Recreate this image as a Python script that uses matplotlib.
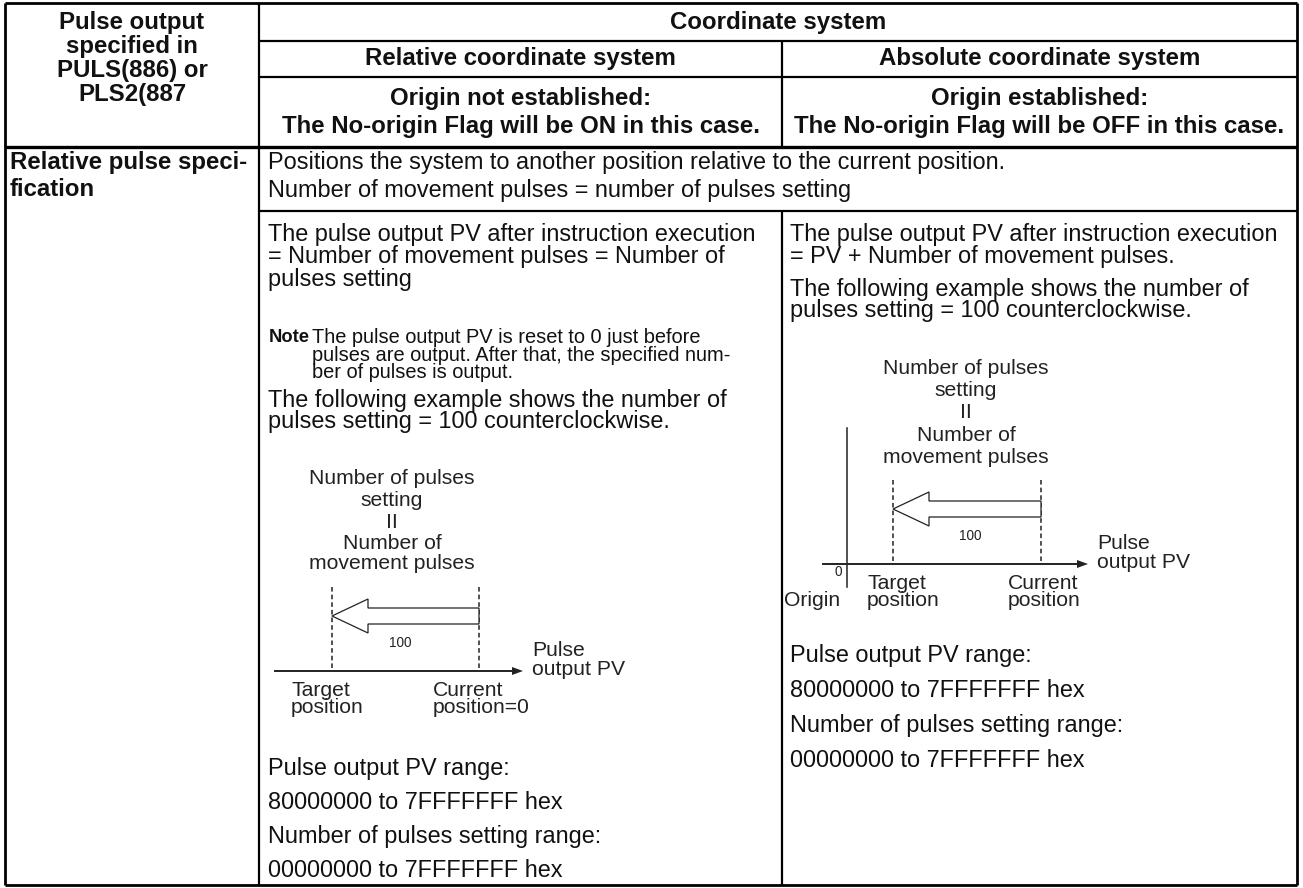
import matplotlib.pyplot as plt
from matplotlib.patches import Polygon

# --- 1. TABLE TEXT ---
row_header = ["Pulse output", "specified in", "PULS(886) or", "PLS2(887"]
coord_header = "Coordinate system"
systems = ["Relative coordinate system", "Absolute coordinate system"]
origin_state = ["Origin not established:", "Origin established:"]
flag_state = ["The No-origin Flag will be ON in this case.",
              "The No-origin Flag will be OFF in this case."]
spec_label = ["Relative pulse speci-", "fication"]
common_lines = ["Positions the system to another position relative to the current position.",
                "Number of movement pulses = number of pulses setting"]

rel_lines = ["The pulse output PV after instruction execution",
             "= Number of movement pulses = Number of",
             "pulses setting"]
rel_note = ["The pulse output PV is reset to 0 just before",
            "pulses are output. After that, the specified num-",
            "ber of pulses is output."]
abs_lines = ["The pulse output PV after instruction execution",
             "= PV + Number of movement pulses."]
example_lines = ["The following example shows the number of",
                 "pulses setting = 100 counterclockwise."]
range_lines = ["Pulse output PV range:", "80000000 to 7FFFFFFF hex",
               "Number of pulses setting range:", "00000000 to 7FFFFFFF hex"]

# diagram labels
setting_label = ["Number of pulses", "setting", "II", "Number of", "movement pulses"]
pulses_setting = 100
axis_label = ["Pulse", "output PV"]
target_label = ["Target", "position"]
current_rel = ["Current", "position=0"]
current_abs = ["Current", "position"]

# --- 2. CANVAS ---
W, H = 1303, 888
plt.rcParams['font.family'] = ['Liberation Sans', 'DejaVu Sans']
fig = plt.figure(figsize=(W / 100, H / 100), dpi=100)
ax = fig.add_axes([0, 0, 1, 1])
ax.set_xlim(0, W)
ax.set_ylim(H, 0)
ax.axis('off')

INK = '#111111'
DRAW = '#222222'
BODY = 16.9
BOLD = 17.3
NOTE = 14.4
DIAG = 15.2


def txt(x, y, s, size=BODY, ha='left', bold=False, color=INK):
    ax.text(x, y, s, fontsize=size, ha=ha, va='center', color=color,
            fontweight='bold' if bold else 'normal')


def hline(y, x0, x1, lw=1.6):
    ax.plot([x0, x1], [y, y], color='black', lw=lw, solid_capstyle='butt')


def vline(x, y0, y1, lw=1.6):
    ax.plot([x, x], [y0, y1], color='black', lw=lw, solid_capstyle='butt')


# grid
L, R, T, B = 5, 1297, 3, 885
C1, C2 = 259, 782
hline(T, L, R, 2.0)
hline(B, L, R, 2.0)
vline(L, T, B, 2.0)
vline(R, T, B, 2.0)
vline(C1, T, B)
hline(41, C1, R)
hline(77, C1, R)
hline(147, L, R, 2.4)
hline(211, C1, R)
vline(C2, 41, 147)
vline(C2, 211, B)

# --- 3. HEADER ---
for s, y in zip(row_header, [22, 46, 70, 94]):
    txt(132, y, s, size=BOLD, ha='center', bold=True)
txt((C1 + R) / 2, 22, coord_header, size=BOLD, ha='center', bold=True)
for i, cx in enumerate([(C1 + C2) / 2, (C2 + R) / 2]):
    txt(cx, 59, systems[i], size=BOLD, ha='center', bold=True)
    txt(cx, 98, origin_state[i], size=BOLD, ha='center', bold=True)
    txt(cx, 127, flag_state[i], size=BOLD, ha='center', bold=True)

txt(10, 162, spec_label[0], size=BOLD, bold=True)
txt(10, 190, spec_label[1], size=BOLD, bold=True)
txt(268, 162, common_lines[0])
txt(268, 190, common_lines[1])

# --- 4. RELATIVE COLUMN ---
xl = 268
for s, y in zip(rel_lines, [234, 256, 279]):
    txt(xl, y, s)
txt(xl + 1, 337, "Note", size=13.2, bold=True)
for s, y in zip(rel_note, [337, 355, 372]):
    txt(xl + 44, y, s, size=NOTE)
for s, y in zip(example_lines, [400, 421]):
    txt(xl, y, s)
for s, y in zip(range_lines, [768, 802, 836, 870]):
    txt(xl, y, s)

# --- 5. ABSOLUTE COLUMN ---
xr = 790
for s, y in zip(abs_lines, [234, 256]):
    txt(xr, y, s)
for s, y in zip(example_lines, [289, 310]):
    txt(xr, y, s)
for s, y in zip(range_lines, [655, 690, 725, 760]):
    txt(xr, y, s)


# --- 6. DIAGRAMS ---
def arrow_block(x_tip, x_end, yc, head_len=36, head_h=17, shaft_h=8):
    pts = [(x_end, yc - shaft_h), (x_tip + head_len, yc - shaft_h),
           (x_tip + head_len, yc - head_h), (x_tip, yc),
           (x_tip + head_len, yc + head_h), (x_tip + head_len, yc + shaft_h),
           (x_end, yc + shaft_h)]
    ax.add_patch(Polygon(pts, closed=True, facecolor='white',
                         edgecolor=DRAW, lw=0.9, zorder=3))


def pv_axis(x0, x1, y):
    ax.plot([x0, x1 - 9], [y, y], color=DRAW, lw=1.4)
    ax.add_patch(Polygon([(x1, y), (x1 - 11, y - 4), (x1 - 11, y + 4)],
                         closed=True, color=DRAW, lw=0))


def diagram(x_target, x_current, y_axis, x_left, x_right, label_cx, y_labels,
            cur_label, tgt_dx, cur_dx, x_100):
    for s, y in zip(setting_label, y_labels):
        txt(label_cx, y, s, size=DIAG, ha='center', color=DRAW)
    for xd in (x_target, x_current):
        ax.plot([xd, xd], [y_axis - 84, y_axis], color=DRAW, lw=1.1,
                ls=(0, (3, 2)))
    arrow_block(x_target, x_current, y_axis - 55)
    txt(x_100, y_axis - 28, str(pulses_setting), size=9.8, ha='center', color=DRAW)
    pv_axis(x_left, x_right, y_axis)
    txt(x_right + 9, y_axis - 21, axis_label[0], size=DIAG, color=DRAW)
    txt(x_right + 9, y_axis - 2, axis_label[1], size=DIAG, color=DRAW)
    txt(x_target + tgt_dx, y_axis + 19, target_label[0], size=DIAG, color=DRAW)
    txt(x_target + tgt_dx, y_axis + 36, target_label[1], size=DIAG, color=DRAW)
    txt(x_current + cur_dx, y_axis + 19, cur_label[0], size=DIAG, color=DRAW)
    txt(x_current + cur_dx, y_axis + 36, cur_label[1], size=DIAG, color=DRAW)


# relative: origin is the current position
diagram(332, 479, 671, 275, 523, 392, [478, 500, 522, 543, 563], current_rel,
        -41, -46, 400)

# absolute: explicit origin on the axis
diagram(893, 1041, 564, 823, 1088, 966, [368, 390, 412, 435, 457], current_abs,
        -26, -33, 970)
ax.plot([847, 847], [428, 587], color=DRAW, lw=1.1)
txt(838, 572, "0", size=9.8, ha='center', color=DRAW)
txt(812, 600, "Origin", size=DIAG, ha='center', color=DRAW)

plt.savefig("out.png", dpi=100)
